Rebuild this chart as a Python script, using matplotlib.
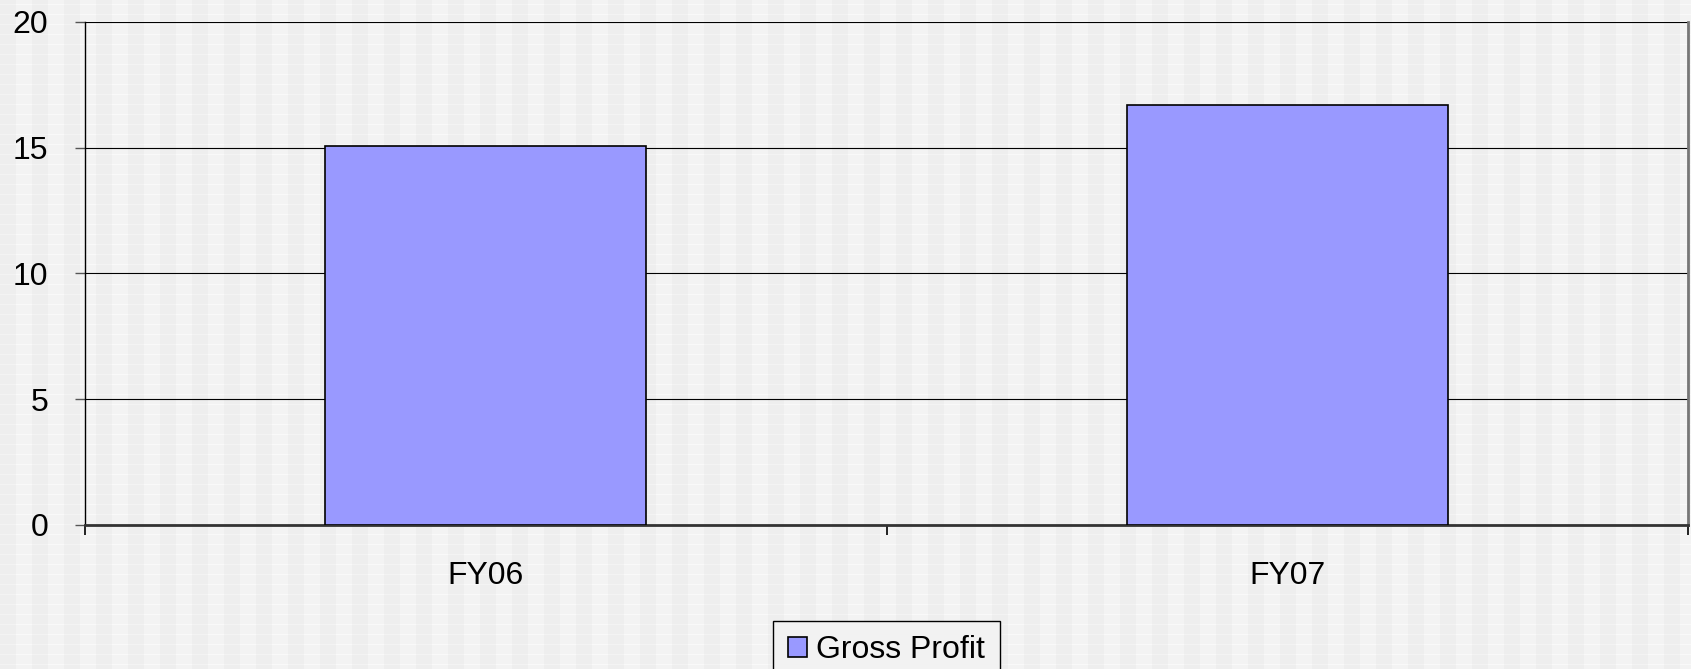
import numpy as np
import matplotlib
matplotlib.use("Agg")
import matplotlib.pyplot as plt

plt.rcParams["font.family"] = ["Liberation Sans", "DejaVu Sans"]

categories = ["FY06", "FY07"]
gross_profit = [15.05, 16.7]
yticks = [0, 5, 10, 15, 20]

W, H = 1691, 669
fig = plt.figure(figsize=(W / 100, H / 100), dpi=100)

# textured grey background: vertical stripes plus faint white rows
bg = fig.add_axes([0, 0, 1, 1])
cols = np.arange(W)
rows = np.arange(H)
tex = np.where((cols // 16) % 2 == 0, 0.93, 0.955)[None, :] * np.ones((H, 1))
tex[(rows % 10) == 4, :] = np.minimum(tex[(rows % 10) == 4, :] + 0.025, 0.975)
bg.imshow(tex, cmap="gray", vmin=0, vmax=1, aspect="auto", interpolation="nearest")
bg.axis("off")

ax = fig.add_axes([85 / W, 1 - 525 / H, (1688 - 85) / W, (525 - 21.7) / H])
ax.patch.set_alpha(0)

x = np.arange(len(categories))
ax.bar(x, gross_profit, width=0.4, color="#9999ff", edgecolor="black",
       linewidth=1.2, label="Gross Profit", zorder=3)

ax.set_xlim(-0.5, len(categories) - 0.5)
ax.set_ylim(0, 20)
ax.set_yticks(yticks)
ax.set_yticklabels([str(t) for t in yticks])
ax.yaxis.grid(True, color="black", linewidth=0.8, zorder=1)
ax.set_axisbelow(True)

# category labels centred, tick marks on boundaries
ax.set_xticks(np.arange(-0.5, len(categories)))
ax.set_xticklabels([""] * (len(categories) + 1))
ax.set_xticks(x, minor=True)
ax.set_xticklabels(categories, minor=True)
ax.tick_params(axis="x", which="minor", length=0, pad=26, labelsize=23)
ax.tick_params(axis="x", which="major", length=7.5, width=1.2, color="black")
ax.tick_params(axis="y", length=7.5, width=1, color="#555555", pad=19, labelsize=23)

ax.spines["top"].set_visible(False)
ax.spines["left"].set_color("black")
ax.spines["left"].set_linewidth(1)
ax.spines["bottom"].set_color("#333333")
ax.spines["bottom"].set_linewidth(2)
ax.spines["right"].set_color("#777777")
ax.spines["right"].set_linewidth(2)

leg = ax.legend(loc="upper center", bbox_to_anchor=(0.5, -0.19), fontsize=23,
                frameon=True, fancybox=False, edgecolor="black", facecolor="#f2f2f2",
                framealpha=1, handlelength=0.6, handleheight=0.6, handletextpad=0.3,
                borderpad=0.45, borderaxespad=0)
leg.get_frame().set_linewidth(1)

plt.savefig("out.png", dpi=100)
plt.close()
